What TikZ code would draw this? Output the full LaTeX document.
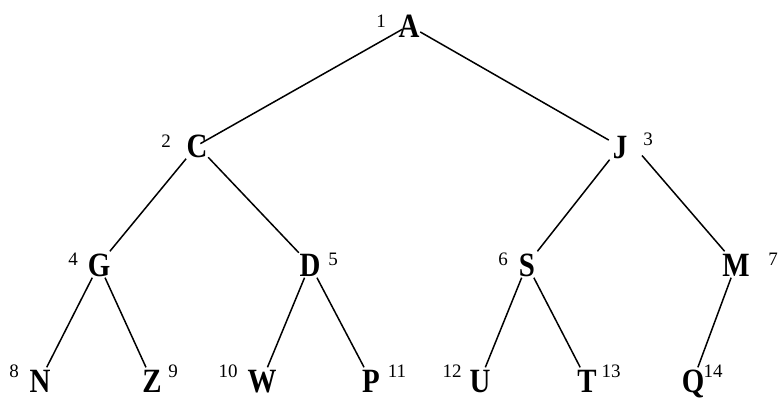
\documentclass[tikz,border=0pt]{standalone}
\usepackage{fontspec}
\setmainfont{Liberation Serif}
\newfontfamily\lettfont[FakeStretch=0.85]{Liberation Serif}
\usetikzlibrary{calc}
\begin{document}
\begin{tikzpicture}[x=1pt,y=-1pt,
  letter/.style={font=\lettfont\fontsize{34}{34}\selectfont\bfseries, inner sep=0pt,
    text height=23pt, text depth=0pt, minimum height=26pt, minimum width=22pt, anchor=base},
  num/.style={font=\fontsize{19}{19}\selectfont, inner sep=0pt, anchor=base},
  edge/.style={line width=1.5pt}]
\useasboundingbox (0,0) rectangle (778,400);
% letters
\node[letter] (A) at (409,37) {A};
\node[letter] (C) at (197,157) {C};
\node[letter] (J) at (620,158) {J};
\node[letter] (G) at (99,276) {G};
\node[letter] (D) at (310,276) {D};
\node[letter] (S) at (527,276) {S};
\node[letter] (M) at (736,276) {M};
\node[letter] (N) at (40,392) {N};
\node[letter] (Z) at (152,392) {Z};
\node[letter] (W) at (262,392) {W};
\node[letter] (P) at (371,392) {P};
\node[letter] (U) at (480,392) {U};
\node[letter] (T) at (587,392) {T};
\node[letter] (Q) at (693,392) {Q};
% numbers
\node[num] (n1) at (381,27) {1};
\node[num] (n2) at (166,147) {2};
\node[num] (n3) at (648,145) {3};
\node[num] (n4) at (73,265) {4};
\node[num] (n5) at (333,265) {5};
\node[num] (n6) at (503,265) {6};
\node[num] (n7) at (773,265) {7};
\node[num] (n8) at (14,377) {8};
\node[num] (n9) at (173,377) {9};
\node[num] (n10) at (228,377) {10};
\node[num] (n11) at (397,377) {11};
\node[num] (n12) at (452,377) {12};
\node[num] (n13) at (611,377) {13};
\node[num] (n14) at (713,377) {14};
% edges
\draw[edge, shorten <=-5pt, shorten >=-9pt] (A) -- (C);
\draw[edge] (A) -- (J);
\draw[edge] (C) -- (G);
\draw[edge] (C) -- (D);
\draw[edge] (J) -- (S);
\draw[edge] ($(J)+(22,9)$) -- (M);
\draw[edge] (G) -- (N);
\draw[edge] (G) -- (Z);
\draw[edge] (D) -- (W);
\draw[edge] (D) -- (P);
\draw[edge] (S) -- (U);
\draw[edge] (S) -- (T);
\draw[edge] (M) -- (Q);
\end{tikzpicture}
\end{document}
